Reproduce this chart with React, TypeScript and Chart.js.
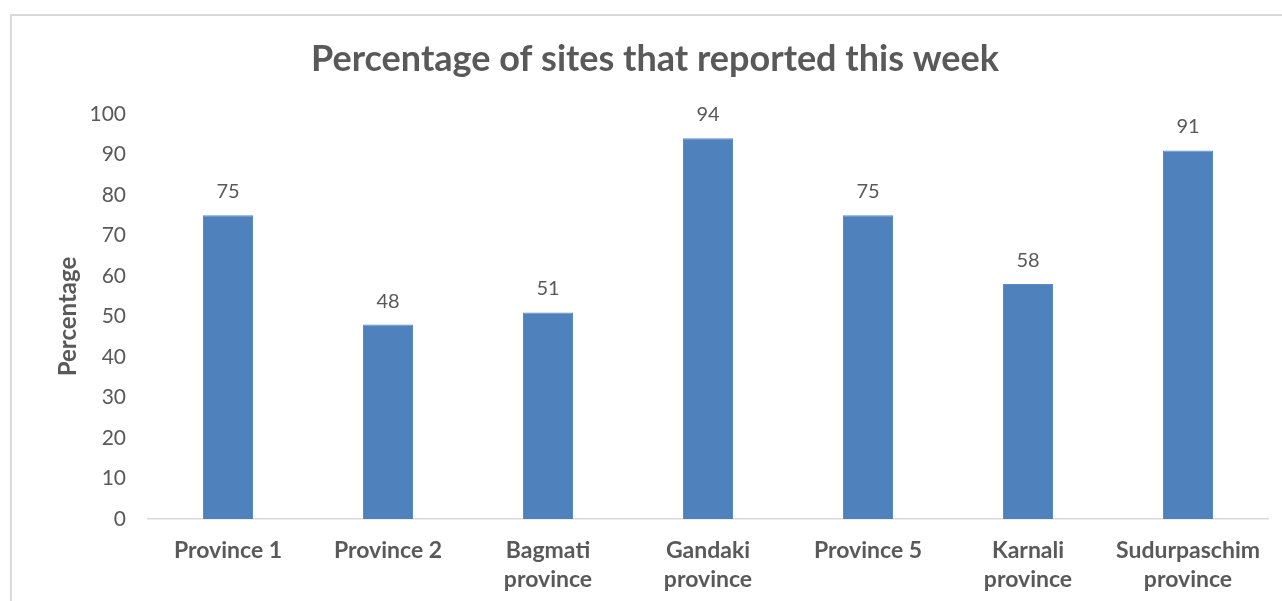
import React, { useEffect, useRef } from "react";
import { Chart, registerables } from "chart.js";

Chart.register(...registerables);

const categories: string[][] = [
  ["Province 1"],
  ["Province 2"],
  ["Bagmati", "province"],
  ["Gandaki", "province"],
  ["Province 5"],
  ["Karnali", "province"],
  ["Sudurpaschim", "province"],
];
const values: number[] = [75, 48, 51, 94, 75, 58, 91];
const titleText = "Percentage of sites that reported this week";
const yTitle = "Percentage";

const TEXT = "#595959";
const FONT = "Lato";

const dataLabels = {
  id: "dataLabels",
  afterDatasetsDraw(chart: any) {
    const ctx = chart.ctx;
    const meta = chart.getDatasetMeta(0);
    ctx.save();
    ctx.fillStyle = TEXT;
    ctx.font = `20px ${FONT}`;
    ctx.textAlign = "center";
    ctx.textBaseline = "alphabetic";
    meta.data.forEach((bar: any, i: number) => {
      ctx.fillText(String(values[i]), bar.x, bar.y - 17);
    });
    ctx.restore();
  },
};

export default function App() {
  const ref = useRef<HTMLCanvasElement>(null);
  useEffect(() => {
    if (!ref.current) return;
    const chart = new Chart(ref.current, {
      type: "bar",
      data: {
        labels: categories,
        datasets: [
          {
            data: values,
            backgroundColor: "#4F81BD",
            borderColor: "#5B8CC6",
            borderWidth: 1,
            categoryPercentage: 1,
            barPercentage: 0.3125,
          },
        ],
      },
      plugins: [dataLabels],
      options: {
        animation: false,
        responsive: false,
        devicePixelRatio: 1,
        layout: { padding: { left: 42, right: 14, top: 0, bottom: 0 } },
        plugins: {
          legend: { display: false },
          tooltip: { enabled: false },
          title: {
            display: true,
            text: titleText,
            color: TEXT,
            font: { family: FONT, size: 36, weight: "bold" },
            padding: { top: 38, bottom: 32.8 },
          },
        },
        scales: {
          x: {
            grid: { display: false, drawTicks: false },
            border: { display: true, color: "#d9d9d9", width: 1.5 },
            ticks: {
              color: TEXT,
              font: { family: FONT, size: 23, weight: "bold", lineHeight: 1.26 },
              padding: 17,
              maxRotation: 0,
              autoSkip: false,
            },
            afterFit(scale: any) {
              scale.height = 82;
            },
          },
          y: {
            min: 0,
            max: 100,
            ticks: {
              stepSize: 10,
              color: TEXT,
              font: { family: FONT, size: 21 },
              padding: 22,
            },
            grid: { display: false, drawTicks: false },
            border: { display: false },
            title: {
              display: true,
              text: yTitle,
              color: TEXT,
              font: { family: FONT, size: 24, weight: "bold" },
              padding: { top: 12, bottom: 0 },
            },
            afterFit(scale: any) {
              scale.width = 106;
            },
          },
        },
      },
    });
    return () => chart.destroy();
  }, []);
  return (
    <div
      style={{
        position: "absolute",
        left: 0,
        top: 0,
        width: 1282,
        height: 601,
        overflow: "hidden",
        background: "#fff",
      }}
    >
      <div
        style={{
          position: "absolute",
          left: 10,
          top: 14,
          width: 1300,
          height: 620,
          border: "2px solid #d9d9d9",
        }}
      />
      <canvas
        ref={ref}
        width={1282}
        height={601}
        style={{ position: "absolute", left: 0, top: 0 }}
      />
    </div>
  );
}
